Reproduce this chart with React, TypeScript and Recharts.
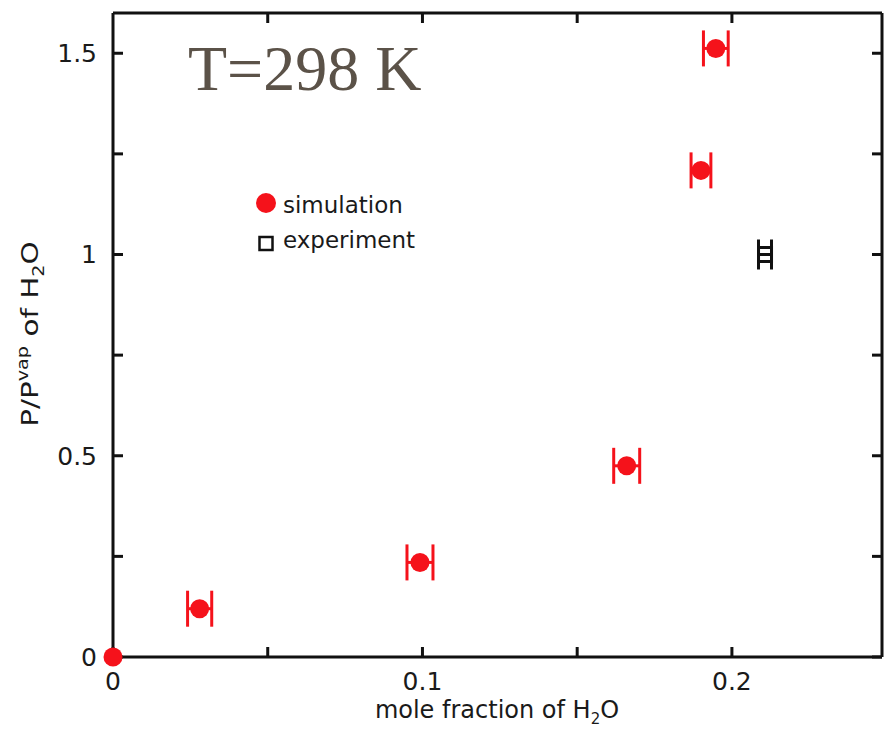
import { ScatterChart, Scatter, XAxis, YAxis, ErrorBar, Legend } from 'recharts';

// simulated P/Pvap points with their x uncertainty
const simX = [0, 0.028, 0.0992, 0.166, 0.19, 0.1948];
const simY = [0, 0.12, 0.235, 0.475, 1.209, 1.512];
const simXErr = [0, 0.0039, 0.0042, 0.0042, 0.0032, 0.004];

// experimental saturation point
const expX = [0.2107];
const expY = [1.0];
const expXErr = [0.0021];

const xTicks = [0, 0.05, 0.1, 0.15, 0.2];
const xTickLabels = ['0', '', '0.1', '', '0.2'];
const yTicks = [0, 0.25, 0.5, 0.75, 1, 1.25, 1.5];
const yTickLabels = ['0', '', '0.5', '', '1', '', '1.5'];

const X_MAX = 0.2485;
const Y_MAX = 1.6;

const RED = '#f5121b';
const INK = '#111';

const simData = simX.map((x, i) => ({ x, y: simY[i], xErr: simXErr[i] }));
const expData = expX.map((x, i) => ({ x, y: expY[i], xErr: expXErr[i] }));
// anchors for the tick marks on the top edge of the frame
const topTickData = xTicks.slice(1).map((x) => ({ x, y: Y_MAX }));

const tickFont = { fontFamily: 'DejaVu Sans', fontSize: 25, fill: '#1a1a1a' };

const Dot = (props: any) => <circle cx={props.cx} cy={props.cy} r={9.5} fill={RED} />;
const OpenSquare = (props: any) => (
  <rect x={props.cx - 6.5} y={props.cy - 7} width={13} height={14} fill="none" stroke={INK} strokeWidth={3} />
);
const TopTick = (props: any) => (
  <line x1={props.cx} y1={props.cy} x2={props.cx} y2={props.cy + 10} stroke={INK} strokeWidth={3} />
);
// mirrored frame axis gets tick marks but no labels
const NoLabel = () => <g />;

function LegendBox() {
  return (
    <svg width={180} height={75} style={{ display: 'block' }}>
      <circle cx={16} cy={18} r={10} fill={RED} />
      <text x={33} y={28} fontFamily="DejaVu Sans" fontSize={23} fill="#1a1a1a">simulation</text>
      <rect x={9.5} y={52} width={13} height={13} fill="none" stroke={INK} strokeWidth={2.5} />
      <text x={33} y={63} fontFamily="DejaVu Sans" fontSize={23} fill="#1a1a1a">experiment</text>
    </svg>
  );
}

export default function App() {
  return (
    <div style={{ position: 'absolute', left: 0, top: 0, width: 884, height: 733, background: '#fff' }}>
      <ScatterChart width={884} height={733} margin={{ top: 11, right: 0, bottom: 16, left: 53 }}>
        <XAxis
          xAxisId="bottom"
          type="number"
          dataKey="x"
          domain={[0, X_MAX]}
          ticks={xTicks}
          interval={0}
          tickFormatter={(v: number) => xTickLabels[xTicks.indexOf(v)] ?? ''}
          tickSize={-10}
          tickMargin={25}
          height={60}
          tick={tickFont}
          axisLine={{ stroke: INK, strokeWidth: 3 }}
          tickLine={{ stroke: INK, strokeWidth: 3 }}
        />
        <XAxis
          xAxisId="top"
          orientation="top"
          type="number"
          dataKey="x"
          domain={[0, X_MAX]}
          ticks={xTicks}
          tick={false}
          tickLine={false}
          height={2}
          axisLine={{ stroke: INK, strokeWidth: 3 }}
        />
        <YAxis
          yAxisId="left"
          type="number"
          dataKey="y"
          domain={[0, Y_MAX]}
          ticks={yTicks}
          interval={0}
          tickFormatter={(v: number) => yTickLabels[yTicks.indexOf(v)] ?? ''}
          tickSize={-10}
          tickMargin={26}
          width={60}
          tick={tickFont}
          axisLine={{ stroke: INK, strokeWidth: 3 }}
          tickLine={{ stroke: INK, strokeWidth: 3 }}
        />
        <YAxis
          yAxisId="right"
          orientation="right"
          type="number"
          dataKey="y"
          domain={[0, Y_MAX]}
          ticks={yTicks}
          interval={0}
          tick={NoLabel}
          tickSize={-10}
          width={2}
          axisLine={{ stroke: INK, strokeWidth: 3 }}
          tickLine={{ stroke: INK, strokeWidth: 3 }}
        />
        <Legend
          layout="horizontal"
          verticalAlign="middle"
          align="center"
          content={() => <LegendBox />}
          wrapperStyle={{ left: 250, top: 185, width: 180, height: 75 }}
        />
        {/* keeps the mirrored frame axes bound to data */}
        <Scatter
          data={expData}
          xAxisId="top"
          yAxisId="right"
          shape={() => <g />}
          legendType="none"
          isAnimationActive={false}
        />
        {/* inward tick marks hanging from the top edge */}
        <Scatter
          data={topTickData}
          xAxisId="bottom"
          yAxisId="left"
          shape={TopTick}
          legendType="none"
          isAnimationActive={false}
        />
        <Scatter
          name="experiment"
          data={expData}
          xAxisId="bottom"
          yAxisId="left"
          shape={OpenSquare}
          isAnimationActive={false}
        >
          <ErrorBar dataKey="xErr" direction="x" width={15} stroke={INK} strokeWidth={3} />
        </Scatter>
        <Scatter
          name="simulation"
          data={simData}
          xAxisId="bottom"
          yAxisId="left"
          shape={Dot}
          isAnimationActive={false}
        >
          <ErrorBar dataKey="xErr" direction="x" width={18} stroke={RED} strokeWidth={3} />
        </Scatter>
      </ScatterChart>

      <svg
        width={884}
        height={733}
        style={{ position: 'absolute', left: 0, top: 0, pointerEvents: 'none' }}
      >
        <text x={188} y={90} fontFamily="Liberation Serif" fontSize={64} fill="#5b5248">
          T=298 K
        </text>
        <text x={497} y={718} textAnchor="middle" fontFamily="DejaVu Sans" fontSize={24} fill="#1a1a1a">
          mole fraction of H
          <tspan fontSize={15} dy={6}>2</tspan>
          <tspan dy={-6}>O</tspan>
        </text>
        <text
          transform="translate(38,334) rotate(-90) scale(1.28,1)"
          textAnchor="middle"
          fontFamily="DejaVu Sans"
          fontSize={23}
          fill="#1a1a1a"
        >
          P/P
          <tspan fontSize={15} dy={-10}>vap</tspan>
          <tspan dy={10}> of H</tspan>
          <tspan fontSize={15} dy={6}>2</tspan>
          <tspan dy={-6}>O</tspan>
        </text>
      </svg>
    </div>
  );
}
